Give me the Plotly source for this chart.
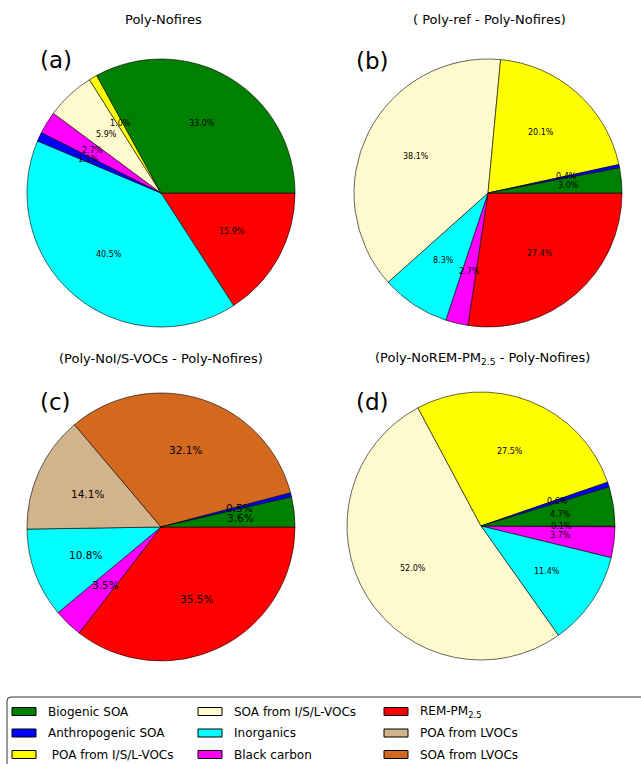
import math
import plotly.graph_objects as go

W, H = 641, 764

# legend categories (matplotlib ncol=3 -> filled column by column)
categories = ["Biogenic SOA", "Anthropogenic SOA", "\u00a0POA from I/S/L-VOCs",
              "SOA from I/S/L-VOCs", "Inorganics", "Black carbon",
              "REM-PM<sub>2.5</sub>", "POA from LVOCs", "SOA from LVOCs"]
cat_colors = ["#008000", "#0000ff", "#ffff00", "#fffacd", "#00ffff",
              "#ff00ff", "#ff0000", "#d2b48c", "#d2691e"]

# slices in drawing order (counterclockwise from 3 o'clock), values in %
labels_a = ["Biogenic SOA", "\u00a0POA from I/S/L-VOCs", "SOA from I/S/L-VOCs",
            "Black carbon", "Anthropogenic SOA", "Inorganics", "REM-PM<sub>2.5</sub>"]
values_a = [33.0, 1.0, 5.9, 2.7, 1.1, 40.5, 15.9]

labels_b = ["Biogenic SOA", "Anthropogenic SOA", "\u00a0POA from I/S/L-VOCs",
            "SOA from I/S/L-VOCs", "Inorganics", "Black carbon", "REM-PM<sub>2.5</sub>"]
values_b = [3.0, 0.4, 20.1, 38.1, 8.3, 2.7, 27.4]

labels_c = ["Biogenic SOA", "Anthropogenic SOA", "SOA from LVOCs", "POA from LVOCs",
            "Inorganics", "Black carbon", "REM-PM<sub>2.5</sub>"]
values_c = [3.6, 0.5, 32.1, 14.1, 10.8, 3.5, 35.5]

labels_d = ["Biogenic SOA", "Anthropogenic SOA", "\u00a0POA from I/S/L-VOCs",
            "SOA from I/S/L-VOCs", "Inorganics", "Black carbon", "REM-PM<sub>2.5</sub>"]
values_d = [4.7, 0.6, 27.5, 52.0, 11.4, 3.7, 0.1]

titles = ["Poly-Nofires", "( Poly-ref - Poly-Nofires)",
          "(Poly-NoI/S-VOCs - Poly-Nofires)",
          "(Poly-NoREM-PM<sub>2.5</sub> - Poly-Nofires)"]
tags = ["(a)", "(b)", "(c)", "(d)"]

color_of = dict(zip(categories, cat_colors))

panels = [
    (labels_a, values_a, 161, 193, 8),
    (labels_b, values_b, 488, 193, 8),
    (labels_c, values_c, 161, 527, 10.5),
    (labels_d, values_d, 481, 526, 8),
]
R = 134


def px(x):
    return x / W


def py(y):
    return 1 - y / H


fig = go.Figure()
annotations = []
shapes = []
FONT = "DejaVu Sans"

for i, (labs, vals, cx, cy, fs) in enumerate(panels):
    # matplotlib goes counterclockwise from 3 o'clock; plotly's ccw mode puts
    # the first slice below the start line, so feed reversed order clockwise
    fig.add_trace(go.Pie(
        labels=labs[::-1], values=vals[::-1], sort=False, direction="clockwise",
        rotation=90, textinfo="none", showlegend=False, hoverinfo="label+percent",
        marker=dict(colors=[color_of[l] for l in labs[::-1]],
                    line=dict(color="black", width=0.6)),
        domain=dict(x=[px(cx - R), px(cx + R)], y=[py(cy + R), py(cy - R)]),
    ))
    # autopct-style labels at 0.6 r on the slice bisector
    tot = sum(vals)
    cum = 0
    for v in vals:
        ang = math.radians((cum + v / 2) / tot * 360)
        cum += v
        annotations.append(dict(
            x=px(cx + 0.6 * R * math.cos(ang)), y=py(cy - 0.6 * R * math.sin(ang)),
            xref="paper", yref="paper", text=f"{v:.1f}%", showarrow=False,
            xanchor="center", yanchor="middle",
            font=dict(family=FONT, size=fs, color="black")))

# titles and panel tags
title_pos = [(163, 20), (489, 20), (161, 358), (482, 358)]
tag_pos = [(56, 60), (372, 61), (55, 402), (372, 402)]
for t, (x, y) in zip(titles, title_pos):
    annotations.append(dict(x=px(x), y=py(y), xref="paper", yref="paper", text=t,
                            showarrow=False, xanchor="center", yanchor="middle",
                            font=dict(family=FONT, size=13, color="black")))
for t, (x, y) in zip(tags, tag_pos):
    annotations.append(dict(x=px(x), y=py(y), xref="paper", yref="paper", text=t,
                            showarrow=False, xanchor="center", yanchor="middle",
                            font=dict(family=FONT, size=23, color="black")))

# legend box
x0, y0, x1, y1, rr = 7, 697, 700, 800, 4
path = (f"M{px(x0 + rr)},{py(y0)} L{px(x1)},{py(y0)} L{px(x1)},{py(y1)} "
        f"L{px(x0)},{py(y1)} L{px(x0)},{py(y0 + rr)} "
        f"Q{px(x0)},{py(y0)} {px(x0 + rr)},{py(y0)} Z")
shapes.append(dict(type="path", path=path, xref="paper", yref="paper",
                   line=dict(color="#333333", width=1), fillcolor="white", layer="below"))

col_x = [12, 198, 384]
row_y = [711.5, 733, 754.5]
for k, (lab, col) in enumerate(zip(categories, cat_colors)):
    cx_, ry_ = col_x[k // 3], row_y[k % 3]
    shapes.append(dict(type="rect", xref="paper", yref="paper",
                       x0=px(cx_), x1=px(cx_ + 24), y0=py(ry_ + 4), y1=py(ry_ - 4),
                       fillcolor=col, line=dict(color="black", width=1)))
    annotations.append(dict(x=px(cx_ + 34), y=py(ry_), xref="paper", yref="paper",
                            text=lab, showarrow=False, xanchor="left", yanchor="middle",
                            font=dict(family=FONT, size=12, color="black")))

fig.update_layout(width=W, height=H, margin=dict(l=0, r=0, t=0, b=0),
                  paper_bgcolor="white", plot_bgcolor="white",
                  annotations=annotations, shapes=shapes)

fig.write_html("out.html", config={"displayModeBar": False},
               post_script="document.body.style.margin='0px';"
                           "document.body.style.overflow='hidden';")
